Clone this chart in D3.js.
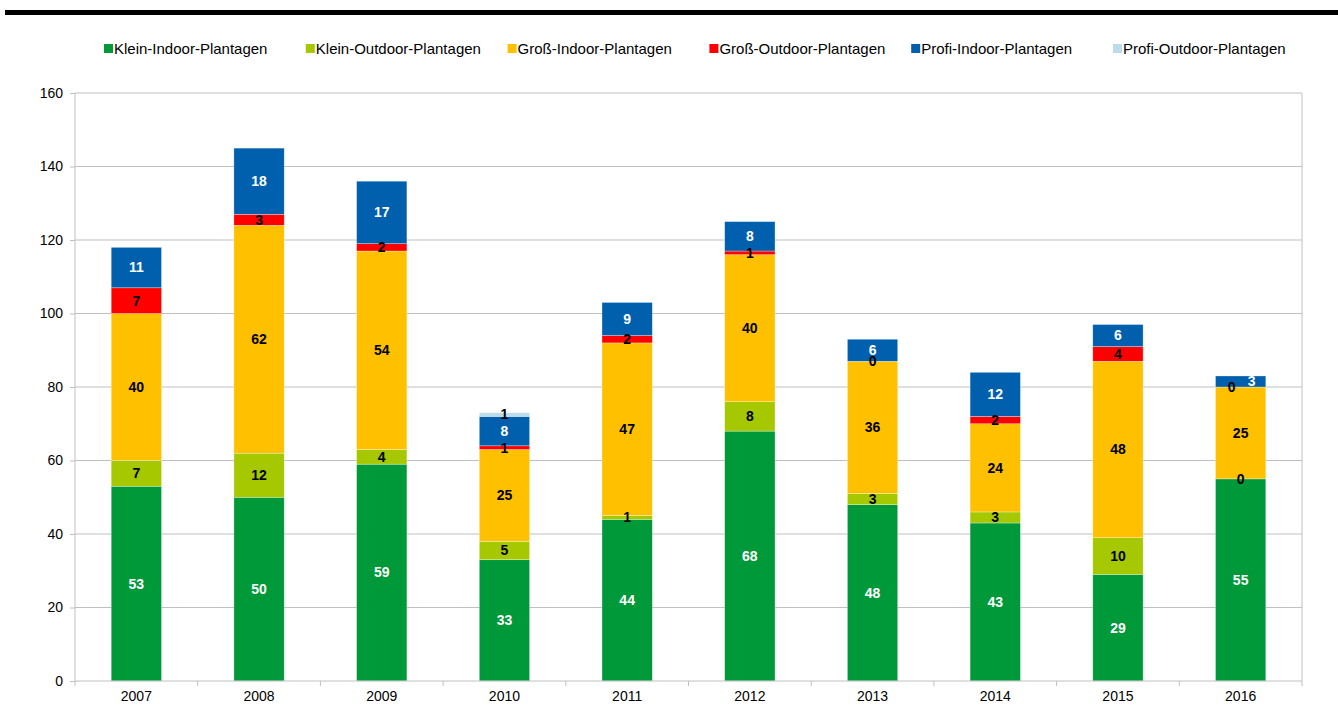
<!DOCTYPE html>
<html>
<head>
<meta charset="utf-8">
<script src="https://cdn.jsdelivr.net/npm/d3@7"></script>
<style>
  body { margin: 0; background: #fff; }
  text { font-family: "Liberation Sans", Arial, sans-serif; }
</style>
</head>
<body>
<script>
// Data
var years = ["2007", "2008", "2009", "2010", "2011", "2012", "2013", "2014", "2015", "2016"];
var seriesNames = ["Klein-Indoor-Plantagen", "Klein-Outdoor-Plantagen", "Groß-Indoor-Plantagen",
                   "Groß-Outdoor-Plantagen", "Profi-Indoor-Plantagen", "Profi-Outdoor-Plantagen"];
var kleinIndoor  = [53, 50, 59, 33, 44, 68, 48, 43, 29, 55];
var kleinOutdoor = [7, 12, 4, 5, 1, 8, 3, 3, 10, 0];
var grossIndoor  = [40, 62, 54, 25, 47, 40, 36, 24, 48, 25];
var grossOutdoor = [7, 3, 2, 1, 2, 1, 0, 2, 4, 0];
var profiIndoor  = [11, 18, 17, 8, 9, 8, 6, 12, 6, 3];
var profiOutdoor = [null, null, null, 1, null, null, null, null, null, null];
var yTicks = [0, 20, 40, 60, 80, 100, 120, 140, 160];

var colors = ["#00993a", "#a5c800", "#ffc000", "#ff0000", "#0060ad", "#bcdcea"];
var labelColors = ["#fff", "#000", "#000", "#000", "#fff", "#000"];

var svgWidth = 1338, svgHeight = 713;
var margin = { top: 93, right: 36, bottom: 32, left: 75 };
var chartWidth = svgWidth - margin.left - margin.right;
var chartHeight = svgHeight - margin.top - margin.bottom;

var svg = d3.select("body").append("svg")
  .attr("width", svgWidth)
  .attr("height", svgHeight);

// thick black rule at the top
svg.append("rect")
  .attr("x", 5).attr("y", 10)
  .attr("width", svgWidth - 5).attr("height", 5)
  .attr("fill", "#000");

// build table
var allSeries = [kleinIndoor, kleinOutdoor, grossIndoor, grossOutdoor, profiIndoor, profiOutdoor];
var table = years.map(function(y, i) {
  var row = { year: y };
  seriesNames.forEach(function(s, j) { row[s] = allSeries[j][i]; });
  return row;
});

var stack = d3.stack()
  .keys(seriesNames)
  .value(function(d, key) { return d[key] == null ? 0 : d[key]; });
var stacked = stack(table);

var x = d3.scaleBand().domain(years).range([0, chartWidth]).paddingInner(0.59).paddingOuter(0.295);
var xb = d3.scaleBand().domain(years).range([0, chartWidth]);
var y = d3.scaleLinear().domain([0, 160]).range([chartHeight, 0]);

var g = svg.append("g").attr("transform", "translate(" + margin.left + "," + margin.top + ")");

// gridlines
g.append("g").selectAll("line")
  .data(yTicks.slice(1))
  .enter().append("line")
  .attr("x1", 0).attr("x2", chartWidth)
  .attr("y1", function(d) { return y(d); })
  .attr("y2", function(d) { return y(d); })
  .attr("stroke", "#c0c0c0").attr("stroke-width", 1);

// right border
g.append("line")
  .attr("x1", chartWidth).attr("x2", chartWidth)
  .attr("y1", 0).attr("y2", chartHeight)
  .attr("stroke", "#c0c0c0");

// bars
var layers = g.selectAll(".layer")
  .data(stacked)
  .enter().append("g")
  .attr("class", "layer")
  .attr("fill", function(d, i) { return colors[i]; });

layers.selectAll("rect")
  .data(function(d) { return d; })
  .enter().append("rect")
  .attr("x", function(d) { return x(d.data.year); })
  .attr("width", x.bandwidth())
  .attr("y", function(d) { return y(d[1]); })
  .attr("height", function(d) { return y(d[0]) - y(d[1]); })
  .attr("stroke", "#fff").attr("stroke-opacity", 0.5).attr("stroke-width", 0.6);

// value labels - collect, then nudge apart labels that sit almost on top of each other
var labels = [];
stacked.forEach(function(layer, i) {
  layer.forEach(function(d) {
    var v = d.data[layer.key];
    if (v == null) return;
    labels.push({
      year: d.data.year, value: v, color: labelColors[i],
      cx: x(d.data.year) + x.bandwidth() / 2,
      cy: y((d[0] + d[1]) / 2), dx: 0
    });
  });
});
years.forEach(function(yr) {
  var inBar = labels.filter(function(l) { return l.year === yr; });
  for (var k = 1; k < inBar.length; k++) {
    if (Math.abs(inBar[k].cy - inBar[k - 1].cy) < 8) {
      inBar[k - 1].dx -= 9;
      inBar[k].dx += 11;
    }
  }
});

g.append("g").selectAll("text")
  .data(labels)
  .enter().append("text")
  .attr("x", function(d) { return d.cx + d.dx; })
  .attr("y", function(d) { return d.cy; })
  .attr("dy", "0.35em")
  .attr("text-anchor", "middle")
  .style("font-size", "14px")
  .style("font-weight", "bold")
  .style("fill", function(d) { return d.color; })
  .text(function(d) { return d.value; });

// y axis
var yAxis = g.append("g")
  .call(d3.axisLeft(y).tickValues(yTicks).tickSize(5).tickPadding(7));
yAxis.select(".domain").attr("stroke", "#c0c0c0").attr("d", "M0,0V" + chartHeight);
yAxis.selectAll(".tick line").attr("stroke", "#c0c0c0");
yAxis.selectAll(".tick text").style("font-size", "14px").style("fill", "#000")
  .style("font-family", "'Liberation Sans', Arial, sans-serif");

// x axis
var xAxis = g.append("g")
  .attr("transform", "translate(0," + chartHeight + ")")
  .call(d3.axisBottom(x).tickSize(0).tickPadding(10));
xAxis.select(".domain").attr("stroke", "#c0c0c0").attr("d", "M0,0H" + chartWidth);
xAxis.selectAll(".tick text").style("font-size", "14px").style("fill", "#000")
  .style("font-family", "'Liberation Sans', Arial, sans-serif");
// category separator ticks
g.append("g").selectAll("line")
  .data(years.concat(["end"]))
  .enter().append("line")
  .attr("x1", function(d, i) { return i * xb.bandwidth(); })
  .attr("x2", function(d, i) { return i * xb.bandwidth(); })
  .attr("y1", chartHeight).attr("y2", chartHeight + 5)
  .attr("stroke", "#c0c0c0");

// legend - equal-width slots
var legendSlot = 201.8;
var legend = svg.append("g").attr("transform", "translate(104,49)");
var items = legend.selectAll("g")
  .data(seriesNames)
  .enter().append("g")
  .attr("transform", function(d, i) { return "translate(" + (i * legendSlot) + ",0)"; });
items.append("rect")
  .attr("x", 0).attr("y", -5)
  .attr("width", 9).attr("height", 9)
  .attr("fill", function(d, i) { return colors[i]; });
items.append("text")
  .attr("x", 10).attr("y", 0).attr("dy", "0.35em")
  .style("font-size", "15px")
  .text(function(d) { return d; });
</script>
</body>
</html>
